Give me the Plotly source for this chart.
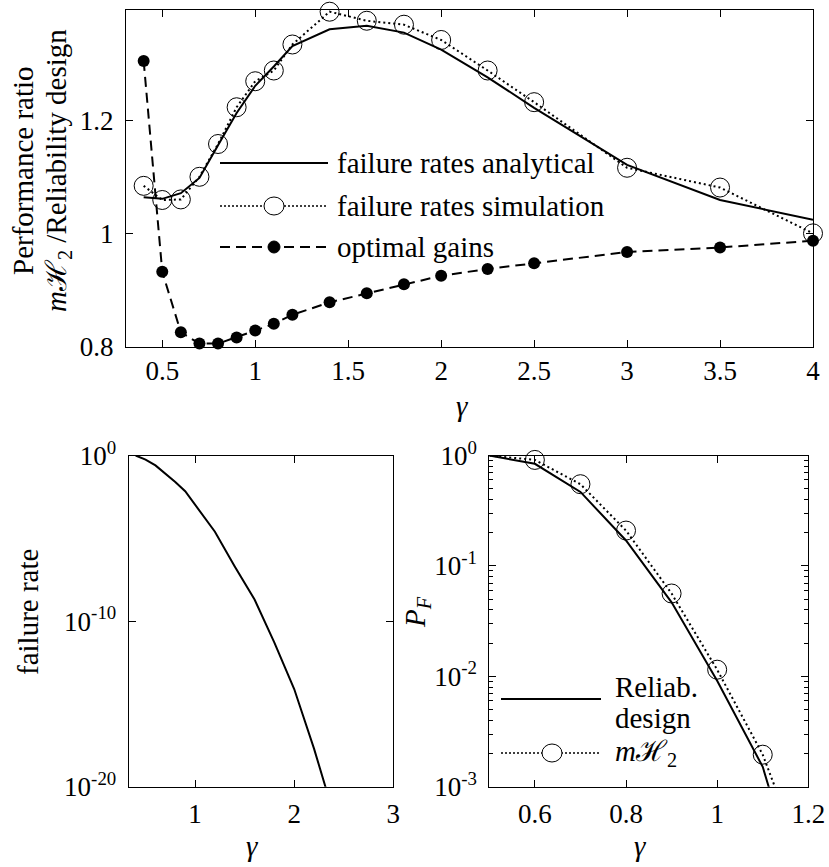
import plotly.graph_objects as go

W, H = 829, 867
FONT = "Liberation Serif"

# ---------------- data ----------------
gamma_top = [0.4, 0.5, 0.6, 0.7, 0.8, 0.9, 1.0, 1.1, 1.2, 1.4, 1.6, 1.8, 2.0, 2.25, 2.5, 3.0, 3.5, 4.0]
ratio_analytical = [1.065, 1.062, 1.072, 1.099, 1.157, 1.214, 1.262, 1.296, 1.332, 1.362, 1.368, 1.356,
                    1.326, 1.277, 1.223, 1.122, 1.060, 1.025]
ratio_simulation = [1.085, 1.060, 1.061, 1.101, 1.159, 1.224, 1.270, 1.289, 1.335, 1.393, 1.377, 1.370,
                    1.343, 1.289, 1.233, 1.117, 1.082, 1.001]
ratio_optimal = [1.306, 0.933, 0.826, 0.806, 0.806, 0.817, 0.829, 0.841, 0.857, 0.879, 0.895, 0.911,
                 0.926, 0.938, 0.948, 0.968, 0.976, 0.988]

gamma_fr = [0.4, 0.5, 0.6, 0.7, 0.8, 0.9, 1.0, 1.2, 1.4, 1.6, 1.8, 2.0, 2.2, 2.4]
log_failure_rate = [0.0, -0.25, -0.6, -1.1, -1.6, -2.16, -2.95, -4.6, -6.7, -8.7, -11.3, -14.1, -17.7, -21.7]
failure_rate = [10 ** v for v in log_failure_rate]

gamma_pf = [0.5, 0.6, 0.7, 0.8, 0.9, 1.0, 1.1, 1.2]
log_pf_reliab = [0.0, -0.075, -0.33, -0.77, -1.33, -2.04, -2.82, -4.2]
log_pf_mh2 = [0.0, -0.04, -0.26, -0.68, -1.25, -1.94, -2.71, -3.8]
pf_reliab = [10 ** v for v in log_pf_reliab]
pf_mh2 = [10 ** v for v in log_pf_mh2]
gamma_pf_markers = [g for g in gamma_pf if 0.55 <= g <= 1.15]
pf_mh2_markers = [p for g, p in zip(gamma_pf, pf_mh2) if 0.55 <= g <= 1.15]

top_xticks = [0.5, 1, 1.5, 2, 2.5, 3, 3.5, 4]
top_xticklabels = ["0.5", "1", "1.5", "2", "2.5", "3", "3.5", "4"]
top_yticks = [0.8, 1.0, 1.2]
top_yticklabels = ["0.8", "1", "1.2"]
bl_xticks = [1, 2, 3]
bl_yticks = [1e-20, 1e-10, 1]
bl_yticklabels = ["10<sup>-20</sup>", "10<sup>-10</sup>", "10<sup>0</sup>"]
br_xticks = [0.6, 0.8, 1.0, 1.2]
br_xticklabels = ["0.6", "0.8", "1", "1.2"]
br_yticks = [1e-3, 1e-2, 1e-1, 1]
br_yticklabels = ["10<sup>-3</sup>", "10<sup>-2</sup>", "10<sup>-1</sup>", "10<sup>0</sup>"]


def px(x):
    return x / W


def py(y):
    return 1 - y / H


fig = go.Figure()

# ---------------- top panel ----------------
fig.add_trace(go.Scatter(x=gamma_top, y=ratio_analytical, mode="lines",
                         line=dict(color="black", width=2), xaxis="x", yaxis="y",
                         showlegend=False, cliponaxis=False))
fig.add_trace(go.Scatter(x=gamma_top, y=ratio_simulation, mode="lines+markers",
                         line=dict(color="black", width=2, dash="2px,3px"),
                         marker=dict(symbol="circle-open", size=19, color="black", line=dict(width=1)),
                         xaxis="x", yaxis="y", showlegend=False, cliponaxis=False))
fig.add_trace(go.Scatter(x=gamma_top, y=ratio_optimal, mode="lines+markers",
                         line=dict(color="black", width=2, dash="10px,6px"),
                         marker=dict(symbol="circle", size=12, color="black"),
                         xaxis="x", yaxis="y", showlegend=False, cliponaxis=False))

# ---------------- bottom-left panel ----------------
fig.add_trace(go.Scatter(x=gamma_fr, y=failure_rate, mode="lines",
                         line=dict(color="black", width=2), xaxis="x2", yaxis="y2",
                         showlegend=False))

# ---------------- bottom-right panel ----------------
fig.add_trace(go.Scatter(x=gamma_pf, y=pf_reliab, mode="lines",
                         line=dict(color="black", width=2), xaxis="x3", yaxis="y3",
                         showlegend=False))
fig.add_trace(go.Scatter(x=gamma_pf, y=pf_mh2, mode="lines",
                         line=dict(color="black", width=2, dash="2px,3px"), xaxis="x3", yaxis="y3",
                         showlegend=False))
fig.add_trace(go.Scatter(x=gamma_pf_markers, y=pf_mh2_markers, mode="markers",
                         marker=dict(symbol="circle-open", size=19, color="black", line=dict(width=1)),
                         xaxis="x3", yaxis="y3", showlegend=False, cliponaxis=False))

axis_common = dict(showline=True, linecolor="black", linewidth=1, mirror="ticks",
                   ticks="inside", ticklen=7, tickcolor="black", tickwidth=1,
                   showgrid=False, zeroline=False, automargin=False,
                   tickfont=dict(family=FONT, size=27, color="black"))

fig.update_layout(
    template="none",
    width=W, height=H,
    margin=dict(l=0, r=0, t=0, b=0, pad=0),
    paper_bgcolor="white", plot_bgcolor="white",
    showlegend=False,
    font=dict(family=FONT, color="black"),
    xaxis=dict(domain=[px(126), px(813)], range=[0.305, 4.0], anchor="y",
               tickvals=top_xticks, ticktext=top_xticklabels, **axis_common),
    yaxis=dict(domain=[py(347), py(10)], range=[0.8, 1.396], anchor="x",
               tickvals=top_yticks, ticktext=top_yticklabels, ticklabelstandoff=6, **axis_common),
    xaxis2=dict(domain=[px(128.7), px(393.3)], range=[0.33, 3.0], anchor="y2",
                tickvals=bl_xticks, ticklabelstandoff=3, **axis_common),
    yaxis2=dict(domain=[py(786.7), py(455.5)], type="log", range=[-20, 0], anchor="x2",
                tickvals=bl_yticks, ticktext=bl_yticklabels, ticklabelstandoff=6, **axis_common),
    xaxis3=dict(domain=[px(489.3), px(808.3)], range=[0.5, 1.2], anchor="y3",
                tickvals=br_xticks, ticktext=br_xticklabels, ticklabelstandoff=3, **axis_common),
    yaxis3=dict(domain=[py(786.7), py(455.5)], type="log", range=[-3, 0], anchor="x3",
                tickvals=br_yticks, ticktext=br_yticklabels, ticklabelstandoff=6,
                minor=dict(ticks="inside", ticklen=4, tickcolor="black", dtick="D1", showgrid=False),
                **axis_common),
)

# ---------------- text (titles and legends) ----------------
def ann(text, x, y, size=29, angle=0, xanchor="center", italic=False):
    fig.add_annotation(text=text, x=px(x), y=py(y), xref="paper", yref="paper",
                       showarrow=False, textangle=angle, xanchor=xanchor, yanchor="middle",
                       font=dict(family=FONT, size=size, color="black",
                                 style="italic" if italic else "normal"))


ann("Performance ratio", 23, 171, angle=-90)
ann("<i>m</i>ℋ<sub>2</sub> /Reliability design", 58, 171, angle=-90)
ann("γ", 463, 406, italic=True)
ann("failure rate", 28, 612, angle=-90)
ann("γ", 253, 846, italic=True)
ann("<i>P<sub>F</sub></i>", 417, 612, angle=-90)
ann("γ", 640, 846, italic=True)

# top legend
ann("failure rates analytical", 335, 163, xanchor="left")
ann("failure rates simulation", 335, 206, xanchor="left")
ann("optimal gains", 335, 247, xanchor="left")
# bottom-right legend
ann("Reliab.", 613, 687, xanchor="left")
ann("design", 613, 718, xanchor="left")
ann("<i>m</i>ℋ<sub>2</sub>", 613, 753, xanchor="left")


def hline(x0, x1, y, dash="solid", width=2):
    fig.add_shape(type="line", xref="paper", yref="paper", x0=px(x0), x1=px(x1), y0=py(y), y1=py(y),
                  line=dict(color="black", width=width, dash=dash))


def marker_shape(x, y, rx, ry, filled):
    fig.add_shape(type="circle", xref="paper", yref="paper", xsizemode="pixel", ysizemode="pixel",
                  xanchor=px(x), yanchor=py(y), x0=-rx, x1=rx, y0=-ry, y1=ry,
                  line=dict(color="black", width=1),
                  fillcolor="black" if filled else "white")


hline(220, 328, 163)
hline(220, 328, 206, dash="2px,2px", width=1.5)
marker_shape(274, 206, 10, 9, False)
hline(220, 328, 247, dash="10px,6px")
marker_shape(274, 247, 6, 6, True)

hline(501, 601, 699)
hline(501, 601, 753, dash="2px,2px", width=1.5)
marker_shape(552, 753, 10, 9, False)

fig.write_html("out.html")
